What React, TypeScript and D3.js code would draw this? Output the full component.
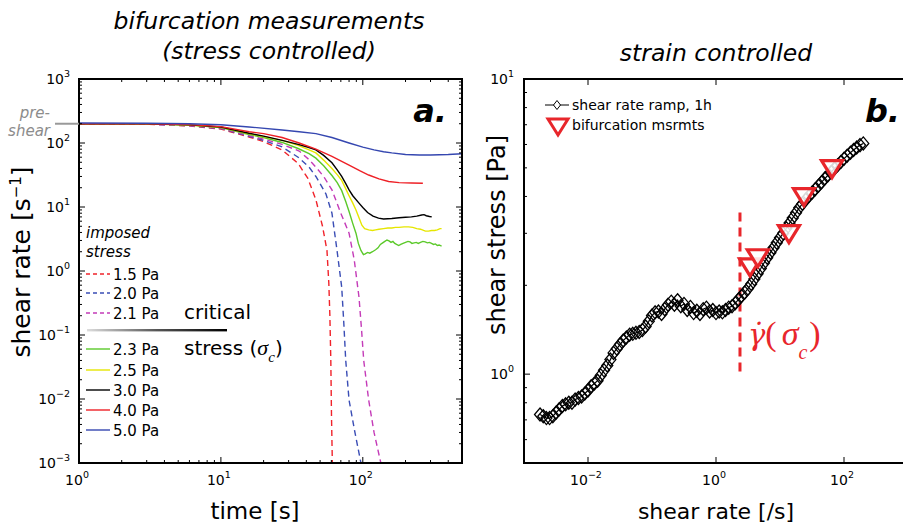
import React from 'react';
import * as d3 from 'd3';

// ---------- Panel a data: shear rate [1/s] vs time [s] ----------
const stress15: [number, number][] = [[1,200],[3,197],[6,185],[10,165],[15.8,124],[20,105],[27,78],[35,48],[41,28],[46.7,13],[52,5],[55.9,2.1],[57.6,0.65],[58.6,0.2],[59.5,0.04],[60.2,0.005],[61,0.001]];
const stress20: [number, number][] = [[1,200],[3,198],[6,187],[10,168],[15.8,127],[20,110],[27,87],[35,60],[41.8,42],[46.7,30],[55,16],[60.6,8],[65.8,2.1],[71,0.56],[73.5,0.15],[75.8,0.04],[80,0.0096],[88,0.003],[97,0.001]];
const stress21: [number, number][] = [[1,200],[3,198],[6,188],[10,170],[15.8,130],[20,115],[27,95],[35.6,75],[41.8,55],[46.7,42],[53,30],[60.6,18.5],[70,8],[80,3.9],[87,1.5],[94,0.39],[98,0.12],[101.5,0.04],[110,0.0096],[120,0.003],[134,0.001]];
const stress23: [number, number][] = [[1,200],[3,199],[6,190],[10,174],[15.8,136],[20,122],[27,102],[35,82],[41.8,68],[46.7,58],[53,44],[60.6,31],[66,24],[71,18],[76,12],[80,8.5],[85,5.5],[89.5,3.9],[93,2.7],[97,2.1],[101,1.8],[104,1.85],[108,1.95],[112,1.9],[117,2.0],[123,2.15],[128,2.3],[133,2.6],[138,2.75],[143,2.9],[148,3.05],[153,2.95],[158,2.8],[163,2.9],[168,2.7],[173,2.6],[179,2.5],[185,2.6],[192,2.7],[200,2.8],[208,2.9],[215,2.85],[222,2.7],[230,2.75],[238,2.8],[246,2.7],[255,2.8],[265,2.9],[275,2.85],[285,2.75],[295,2.8],[305,2.7],[315,2.6],[325,2.65],[335,2.5],[345,2.55],[359,2.45]];
const stress25: [number, number][] = [[1,200],[3,199],[6,191],[10,176],[15.8,140],[20,126],[27,110],[35,92],[41.8,78],[46.7,70],[53,54],[60.6,40],[66,32],[71,26],[76,19],[80,15],[85,11.5],[89.5,9],[94,6.8],[98.5,5.2],[103,4.6],[110,4.4],[117,4.3],[123,4.4],[130,4.5],[140,4.6],[150,4.7],[160,4.7],[170,4.8],[180,4.8],[195,4.9],[210,4.9],[225,4.8],[240,4.6],[255,4.5],[276,4.2],[290,4.2],[305,4.3],[320,4.3],[335,4.4],[350,4.6],[359,4.6]];
const stress30: [number, number][] = [[1,200],[3,199],[6,192],[10,178],[15.8,142],[20,128],[27,110],[35,95],[41.8,85],[46.7,78],[53,64],[60.6,49],[66,38],[71,30],[76,23],[80,18.5],[85,15],[94,11.5],[100,9.8],[108,8.2],[118,7.2],[129,6.7],[140,6.5],[160,6.6],[180,6.8],[200,6.9],[220,7.0],[240,7.2],[260,7.5],[270,7.6],[280,7.3],[295,7.1],[306,7.0]];
const stress40: [number, number][] = [[1,200],[3,199],[6,194],[10,180],[15.8,150],[20,140],[27,122],[35.6,100],[46.7,80],[60.6,62],[80,45],[95,37],[110,31.6],[130,27.5],[152,25],[180,24],[220,23.7],[265,23.5]];
const stress50: [number, number][] = [[1,205],[3,204],[6,200],[10,193],[15.8,178],[27,160],[35.6,150],[46.7,140],[60.6,122],[80,100],[100,86],[120,78],[140,73],[160,70],[200,66],[250,65],[300,65],[400,66],[500,68]];

const legendLabels = ['1.5 Pa', '2.0 Pa', '2.1 Pa', '2.3 Pa', '2.5 Pa', '3.0 Pa', '4.0 Pa', '5.0 Pa'];
const legendColors = ['#f0232b', '#3a4db5', '#c43bb8', '#5bc92a', '#e6e600', '#000000', '#ee2026', '#3547b0'];
const legendDashed = [true, true, true, false, false, false, false, false];
const aSeries = [stress15, stress20, stress21, stress23, stress25, stress30, stress40, stress50];
const preShearRate = 200;

// ---------- Panel b data: shear stress [Pa] vs shear rate [1/s] ----------
const rampRate = [
  0.00178, 0.00200, 0.00224, 0.00251, 0.00282, 0.00316, 0.00355, 0.00398, 0.00447, 0.00501, 0.00562, 0.00631, 0.00708, 0.00794, 0.00891,
  0.0100, 0.0112, 0.0126, 0.0141, 0.0158, 0.0178, 0.0200, 0.0224, 0.0251, 0.0282, 0.0316, 0.0355, 0.0398, 0.0447, 0.0501, 0.0562, 0.0631, 0.0708, 0.0794, 0.0891,
  0.100, 0.112, 0.126, 0.141, 0.158, 0.178, 0.200, 0.224, 0.251, 0.282, 0.316, 0.355, 0.398, 0.447, 0.501, 0.562, 0.631, 0.708, 0.794, 0.891,
  1.00, 1.12, 1.26, 1.41, 1.58, 1.78, 2.00, 2.24, 2.51, 2.82, 3.16, 3.55, 3.98, 4.47, 5.01, 5.62, 6.31, 7.08, 7.94, 8.91,
  10.0, 11.2, 12.6, 14.1, 15.8, 17.8, 20.0, 22.4, 25.1, 28.2, 31.6, 35.5, 39.8, 44.7, 50.1, 56.2, 63.1, 70.8, 79.4, 89.1,
  100, 112, 126, 141, 158, 178, 200,
];
const rampStress = [
  0.73, 0.72, 0.71, 0.71, 0.72, 0.74, 0.76, 0.78, 0.79, 0.80, 0.80, 0.82, 0.83, 0.84, 0.86,
  0.88, 0.91, 0.93, 0.95, 0.99, 1.03, 1.07, 1.12, 1.18, 1.22, 1.26, 1.30, 1.33, 1.36, 1.37, 1.38, 1.39, 1.41, 1.45, 1.51,
  1.58, 1.62, 1.63, 1.60, 1.66, 1.72, 1.76, 1.72, 1.78, 1.70, 1.73, 1.65, 1.69, 1.61, 1.64, 1.60, 1.66, 1.68, 1.63, 1.65,
  1.61, 1.63, 1.62, 1.65, 1.68, 1.70, 1.74, 1.79, 1.84, 1.89, 1.95, 2.02, 2.10, 2.19, 2.28, 2.38, 2.48, 2.58, 2.68, 2.79,
  2.90, 3.00, 3.12, 3.25, 3.38, 3.52, 3.66, 3.78, 3.90, 4.01, 4.12, 4.23, 4.35, 4.47, 4.60, 4.72, 4.84, 4.97, 5.10, 5.23,
  5.37, 5.50, 5.63, 5.75, 5.86, 5.97, 6.05,
];
const bifRate = [3.4, 4.5, 13.8, 23.7, 65];
const bifStress = [2.3, 2.47, 2.98, 3.98, 4.95];
const criticalRate = 2.37;
const criticalLine = [1.02, 3.6];

const aYTickExps = [3, 2, 1, 0, -1, -2, -3];
const aXTickExps = [0, 1, 2];
const bYTickExps = [1, 0];
const bXTickExps = [-2, 0, 2];

const FONT = 'DejaVu Sans, Verdana, sans-serif';
const SERIF = 'Liberation Serif, DejaVu Serif, serif';
const RED = '#e8262b';

const isMajor = (v: number) => Math.abs(Math.log10(v) - Math.round(Math.log10(v))) < 1e-6;
const sup = (n: number) => (n < 0 ? '\u2212' + Math.abs(n) : String(n));

function Pow({ x, y, exp, anchor }: { x: number; y: number; exp: number; anchor: string }) {
  return (
    <text x={x} y={y} textAnchor={anchor as any} fontFamily={FONT} fontSize={14} fill="#000">
      10<tspan dy={-7} fontSize={9.5}>{sup(exp)}</tspan>
    </text>
  );
}

export default function App() {
  // Panel a scales
  const xA = d3.scaleLog().domain([1, 500]).range([79, 462]);
  const yA = d3.scaleLog().domain([1e-3, 1e3]).range([463, 79]);
  // Panel b scales
  const xB = d3.scaleLog().domain([1e-3, 1e3]).range([524, 908]);
  const yB = d3.scaleLog().domain([0.5, 10]).range([463, 79]);

  const lineA = d3.line<[number, number]>().x((d) => xA(d[0])).y((d) => yA(d[1]));
  const rampPts: [number, number][] = rampRate.map((r, i) => [r, rampStress[i]]);
  const lineB = d3.line<[number, number]>().x((d) => xB(d[0])).y((d) => yB(d[1]));

  const [aL, aR] = xA.range();
  const [aB, aT] = yA.range();
  const [bL, bR] = xB.range();
  const [bB, bT] = yB.range();

  const aYTicks = yA.ticks();
  const aXTicks = xA.ticks();
  const bYTicks = yB.ticks();
  const bXTicks = bXTickExps.map((e) => Math.pow(10, e));

  const legendY = [274, 293, 313, 349, 370, 390, 410, 430];

  const tri = (cx: number, cy: number, w: number, h: number) =>
    `M${cx - w / 2},${cy - h / 2}L${cx + w / 2},${cy - h / 2}L${cx},${cy + h / 2}Z`;
  const diamond = (cx: number, cy: number, w: number, h: number) =>
    `M${cx},${cy - h / 2}L${cx + w / 2},${cy}L${cx},${cy + h / 2}L${cx - w / 2},${cy}Z`;

  return (
    <svg width={903} height={529} style={{ position: 'absolute', left: 0, top: 0, background: '#fff' }} fontFamily={FONT}>
      <defs>
        <clipPath id="clipA"><rect x={aL} y={aT} width={aR - aL} height={aB - aT} /></clipPath>
        <clipPath id="clipB"><rect x={bL} y={bT} width={bR - bL} height={bB - bT} /></clipPath>
        <linearGradient id="sepGrad" x1="0" x2="1" y1="0" y2="0">
          <stop offset="0" stopColor="#ddd" />
          <stop offset="0.5" stopColor="#555" />
          <stop offset="1" stopColor="#000" />
        </linearGradient>
      </defs>
      <rect x={0} y={0} width={903} height={529} fill="#fff" />

      {/* Titles */}
      <text x={269} y={29} textAnchor="middle" fontSize={23.5} fontStyle="italic">bifurcation measurements</text>
      <text x={269} y={59} textAnchor="middle" fontSize={23.5} fontStyle="italic">(stress controlled)</text>
      <text x={716} y={61} textAnchor="middle" fontSize={23.5} fontStyle="italic">strain controlled</text>

      {/* ===== Panel a ===== */}
      <g clipPath="url(#clipA)">
        {aSeries.map((s, i) => (
          <path key={i} d={lineA(s) || ''} fill="none" stroke={legendColors[i]} strokeWidth={1.4}
            strokeDasharray={legendDashed[i] ? '6 4' : undefined} />
        ))}
      </g>
      {/* ticks a */}
      {aYTicks.map((v, i) => {
        const L = isMajor(v) ? 6 : 3;
        const y = yA(v);
        return (
          <g key={'ay' + i} stroke="#000" strokeWidth={1}>
            <line x1={aL} x2={aL + L} y1={y} y2={y} />
            <line x1={aR} x2={aR - L} y1={y} y2={y} />
          </g>
        );
      })}
      {aXTicks.map((v, i) => {
        const L = isMajor(v) ? 6 : 3;
        const x = xA(v);
        return (
          <g key={'ax' + i} stroke="#000" strokeWidth={1}>
            <line x1={x} x2={x} y1={aB} y2={aB - L} />
            <line x1={x} x2={x} y1={aT} y2={aT + L} />
          </g>
        );
      })}
      <rect x={aL} y={aT} width={aR - aL} height={aB - aT} fill="none" stroke="#000" strokeWidth={2} />
      {aYTickExps.map((e) => (
        <Pow key={'ayl' + e} x={70} y={yA(Math.pow(10, e)) + 5} exp={e} anchor="end" />
      ))}
      {aXTickExps.map((e) => (
        <Pow key={'axl' + e} x={xA(Math.pow(10, e)) - 2} y={485} exp={e} anchor="middle" />
      ))}
      <text transform="translate(30,262) rotate(-90)" textAnchor="middle" fontSize={25}>
        shear rate [s<tspan dy={-9} fontSize={15}>{'\u2212'}1</tspan><tspan dy={9}>]</tspan>
      </text>
      <text x={255} y={519} textAnchor="middle" fontSize={23}>time [s]</text>

      {/* pre-shear */}
      <line x1={55} x2={aL} y1={yA(preShearRate)} y2={yA(preShearRate)} stroke="#999" strokeWidth={2} />
      <text x={50} y={118} textAnchor="end" fontSize={15} fontStyle="italic" fill="#8c8c8c">pre-</text>
      <text x={50} y={136} textAnchor="end" fontSize={15} fontStyle="italic" fill="#8c8c8c">shear</text>

      <text x={447} y={122} textAnchor="end" fontSize={32} fontWeight="bold" fontStyle="italic">a.</text>

      {/* legend a */}
      <text x={86} y={238} fontSize={15} fontStyle="italic">imposed</text>
      <text x={86} y={257} fontSize={15} fontStyle="italic">stress</text>
      {legendLabels.map((lab, i) => (
        <g key={'lg' + i}>
          <line x1={86} x2={110} y1={legendY[i]} y2={legendY[i]} stroke={legendColors[i]} strokeWidth={1.4}
            strokeDasharray={legendDashed[i] ? '4 3' : undefined} />
          <text x={113} y={legendY[i] + 5.5} fontSize={15}>{lab}</text>
        </g>
      ))}
      <rect x={87} y={329} width={140} height={2.4} fill="url(#sepGrad)" />
      <text x={184} y={319} fontSize={20}>critical</text>
      <text x={184} y={355} fontSize={20}>
        stress (<tspan fontFamily={SERIF} fontStyle="italic" fontSize={22}>{'\u03c3'}</tspan>
        <tspan fontFamily={SERIF} fontStyle="italic" fontSize={15} dy={7}>c</tspan>
        <tspan dy={-7}>)</tspan>
      </text>

      {/* ===== Panel b ===== */}
      {/* ticks b */}
      {bYTicks.map((v, i) => {
        const L = isMajor(v) ? 6 : 3;
        const y = yB(v);
        return <line key={'by' + i} x1={bL} x2={bL + L} y1={y} y2={y} stroke="#000" strokeWidth={1} />;
      })}
      {bXTicks.map((v, i) => {
        const x = xB(v);
        return (
          <g key={'bx' + i} stroke="#000" strokeWidth={1}>
            <line x1={x} x2={x} y1={bB} y2={bB - 6} />
            <line x1={x} x2={x} y1={bT} y2={bT + 6} />
          </g>
        );
      })}
      <g clipPath="url(#clipB)">
        <line x1={xB(criticalRate)} x2={xB(criticalRate)} y1={yB(criticalLine[0])} y2={yB(criticalLine[1])}
          stroke={RED} strokeWidth={3} strokeDasharray="9 6" />
        <path d={lineB(rampPts) || ''} fill="none" stroke="#000" strokeWidth={1.2} />
        {rampPts.map((d, i) => (
          <path key={'rm' + i} d={diamond(xB(d[0]), yB(d[1]), 11, 13)} fill="none" stroke="#000" strokeWidth={1.3} />
        ))}
        {bifRate.map((r, i) => (
          <path key={'bf' + i} d={tri(xB(r), yB(bifStress[i]), 21, 17)} fill="#fff" fillOpacity={0.85} stroke={RED} strokeWidth={3.2} strokeLinejoin="miter" />
        ))}
      </g>
      <path d={`M${bR},${bT}L${bL},${bT}L${bL},${bB}L${bR},${bB}`} fill="none" stroke="#000" strokeWidth={2} />
      {bYTickExps.map((e) => (
        <Pow key={'byl' + e} x={514} y={yB(Math.pow(10, e)) + 5} exp={e} anchor="end" />
      ))}
      {bXTickExps.map((e) => (
        <Pow key={'bxl' + e} x={xB(Math.pow(10, e)) - 2} y={485} exp={e} anchor="middle" />
      ))}
      <text transform="translate(505,235) rotate(-90)" textAnchor="middle" fontSize={24}>shear stress [Pa]</text>
      <text x={716} y={519} textAnchor="middle" fontSize={22}>shear rate [/s]</text>

      <text x={900} y={122} textAnchor="end" fontSize={32} fontWeight="bold" fontStyle="italic">b.</text>

      {/* gamma-dot label */}
      <text x={748} y={345} fill={RED} fontFamily={SERIF} fontSize={34}>
        <tspan fontFamily="DejaVu Serif, serif" fontStyle="italic" fontSize={29}>{'\u03b3\u0307'}</tspan>
        <tspan>(</tspan>
        <tspan fontStyle="italic" dx={5}>{'\u03c3'}</tspan>
        <tspan fontStyle="italic" fontSize={20} dy={14}>c</tspan>
        <tspan dy={-14} dx={2}>)</tspan>
      </text>

      {/* legend b */}
      <line x1={545} x2={569} y1={105} y2={105} stroke="#000" strokeWidth={1} />
      <path d={diamond(557, 105, 7, 9)} fill="#fff" stroke="#000" strokeWidth={1} />
      <text x={572} y={110} fontSize={14}>shear rate ramp, 1h</text>
      <path d={tri(558, 127, 20, 16)} fill="none" stroke={RED} strokeWidth={3} />
      <text x={572} y={130} fontSize={14}>bifurcation msrmts</text>
    </svg>
  );
}
